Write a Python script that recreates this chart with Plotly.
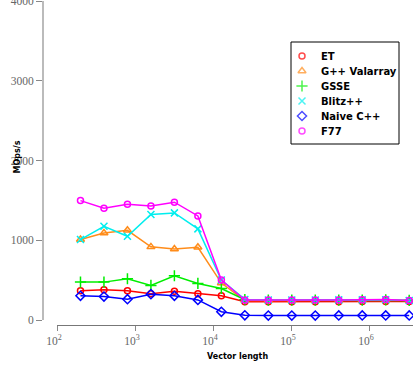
import plotly.graph_objects as go

vector_length = [200 * 2 ** k for k in range(15)]

series_names = ["ET", "G++ Valarray", "GSSE", "Blitz++", "Naive C++", "F77"]
et = [366, 380, 366, 330, 362, 330, 303, 228, 230, 230, 230, 230, 232, 232, 232]
gpp = [1009, 1090, 1125, 917, 890, 912, 463, 244, 245, 245, 245, 248, 250, 255, 245]
gsse = [475, 475, 517, 433, 555, 458, 395, 255, 248, 248, 248, 250, 250, 252, 245]
blitz = [1009, 1175, 1050, 1322, 1343, 1143, 502, 258, 250, 250, 250, 252, 252, 255, 245]
naive = [303, 294, 261, 324, 303, 252, 103, 59, 56, 56, 56, 57, 57, 57, 57]
f77 = [1497, 1401, 1452, 1430, 1477, 1305, 502, 251, 252, 250, 252, 250, 255, 258, 245]
values = [et, gpp, gsse, blitz, naive, f77]

colors = ["#ff0000", "#ff8c1a", "#00ee00", "#00eeee", "#0000ff", "#ff00ff"]
symbols = ["circle-open", "triangle-up-open", "cross-thin-open", "x-thin-open", "diamond-open", "circle-open"]
sizes = [6, 7, 8, 7, 7, 6]

y_ticks = [0, 1000, 2000, 3000, 4000]
x_ticks = [100, 1000, 10000, 100000, 1000000]
x_ticktext = ["10<sup>2</sup>", "10<sup>3</sup>", "10<sup>4</sup>", "10<sup>5</sup>", "10<sup>6</sup>"]

W, H = 413, 370
L, R, T, B = 43, 0, 1, 45
pw, ph = W - L - R, H - T - B
xd0 = (57 - L) / pw
yd0 = (325 - 320) / ph

fig = go.Figure()
for name, vals, c, s, sz in zip(series_names, values, colors, symbols, sizes):
    fig.add_trace(go.Scatter(
        x=vector_length, y=vals, mode="lines+markers", name=name,
        line=dict(color=c, width=1.5),
        marker=dict(symbol=s, size=sz, color=c, line=dict(color=c, width=1.5)),
        showlegend=False, cliponaxis=False,
    ))

# legend drawn in a pixel-unit overlay subplot
leg_left, leg_top, leg_right, leg_bottom = 291, 42, 399, 144
row0, row_step, mark_x, text_x = 56, 15, 302, 319
fig.add_trace(go.Scatter(
    x=[mark_x] * len(series_names),
    y=[row0 + row_step * i for i in range(len(series_names))],
    mode="markers", xaxis="x2", yaxis="y2", showlegend=False, hoverinfo="skip",
    marker=dict(symbol=symbols, size=sizes, color=colors,
                line=dict(color=colors, width=1.5)),
))
for i, name in enumerate(series_names):
    fig.add_annotation(text=f"<b>{name}</b>", xref="x2", yref="y2",
                       x=text_x, y=row0 + row_step * i, xanchor="left", yanchor="middle",
                       showarrow=False,
                       font=dict(family="DejaVu Sans", size=10, color="black"))
fig.add_shape(type="rect", xref="x2", yref="y2", x0=leg_left, x1=leg_right,
              y0=leg_top, y1=leg_bottom, line=dict(color="black", width=1),
              layer="below", fillcolor="white")

tickfont = dict(family="Liberation Serif", size=11.5, color="#666")
fig.update_layout(
    width=W, height=H,
    margin=dict(l=L, r=R, t=T, b=B, autoexpand=False),
    paper_bgcolor="white", plot_bgcolor="rgba(0,0,0,0)",
    xaxis=dict(type="log", range=[2, 2 + 356 / 78], domain=[xd0, 1],
               anchor="free", position=0, automargin=False,
               tickvals=x_ticks, ticktext=x_ticktext,
               ticks="outside", ticklen=5, tickcolor="#888", tickwidth=1,
               showline=True, linecolor="#777", linewidth=1,
               showgrid=False, zeroline=False, ticklabelshift=-3,
               ticklabeloverflow="allow", tickfont=tickfont),
    yaxis=dict(range=[0, 4000], domain=[yd0, 1], anchor="free", position=0,
               automargin=False,
               tickvals=y_ticks, ticks="outside", ticklen=6, tickcolor="#888",
               showline=True, linecolor="#bbbbbb", linewidth=2,
               showgrid=False, zeroline=False,
               ticklabeloverflow="allow", tickfont=tickfont),
    xaxis2=dict(domain=[0, 1], range=[L, W], anchor="y2", visible=False, fixedrange=True),
    yaxis2=dict(domain=[0, 1], range=[H - B, T], anchor="x2", visible=False, fixedrange=True),
    showlegend=False,
)
fig.add_annotation(text="<b>MOps/s</b>", xref="paper", yref="paper",
                   x=(10 - L) / pw, y=(325 - 157) / ph, textangle=-90,
                   showarrow=False, font=dict(family="DejaVu Sans", size=8, color="black"))
fig.add_annotation(text="<b>Vector length</b>", xref="paper", yref="paper",
                   x=(237 - L) / pw, y=(325 - 363) / ph,
                   showarrow=False, font=dict(family="DejaVu Sans", size=8, color="black"))

fig.write_html("out.html", config={"displayModeBar": False},
               post_script="document.body.style.margin='0px';")
